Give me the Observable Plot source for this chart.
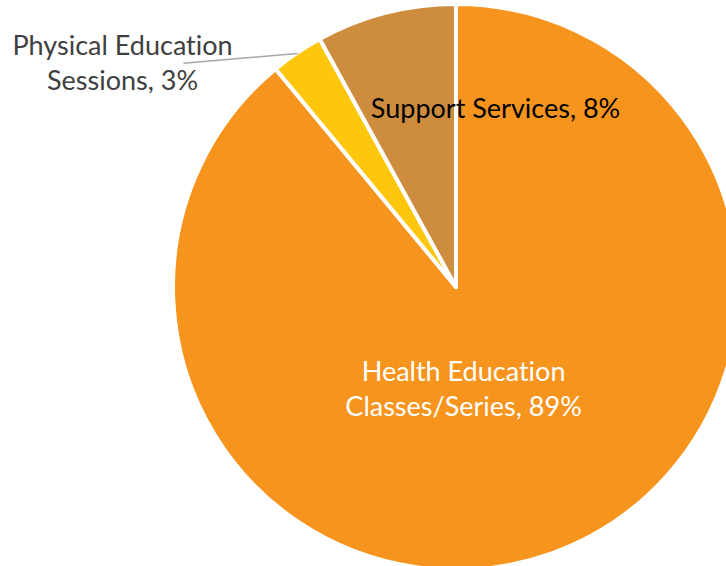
<!DOCTYPE html>
<html>
<head>
<meta charset="utf-8">
<script src="https://cdn.jsdelivr.net/npm/d3@7"></script>
<script src="https://cdn.jsdelivr.net/npm/@observablehq/plot@0.6"></script>
<style>
  html, body { margin: 0; padding: 0; background: #fff; }
  #chart svg { display: block; }
  #chart text { font-variant-ligatures: none; font-feature-settings: "liga" 0, "clig" 0; }
</style>
</head>
<body>
<div id="chart"></div>
<script>
// ---- data ----
const categories = ["Health Education Classes/Series", "Physical Education Sessions", "Support Services"];
const shares = [89, 3, 8];
const labelLines = [
  "Health Education\nClasses/Series, 89%",
  "Physical Education\nSessions, 3%",
  "Support Services, 8%"
];

// ---- styles / layout ----
const sliceColors = ["#F7941D", "#FEC60D", "#CE8C3F"];
const labelColors = ["#FFFFFF", "#404040", "#000000"];
const cx = 456, cy = 287, R = 283;          // pie placement in pixels
const labelAnchors = [[0.025, -0.352], [-1.18, 0.80], [0.138, 0.638]]; // in pie-radius units
const leader = [{x1: -0.965, y1: 0.792, x2: -0.562, y2: 0.827}];

const table = categories.map((c, i) => ({category: c, share: shares[i], label: labelLines[i], color: sliceColors[i], textColor: labelColors[i], lx: labelAnchors[i][0], ly: labelAnchors[i][1]}));

function pieMark(index, scales) {
  const x0 = scales.x(0), y0 = scales.y(0), r = scales.x(1) - x0;
  const arcs = d3.pie().sort(null).value(d => d.share)(table);
  const arc = d3.arc().innerRadius(0).outerRadius(r);
  const g = d3.create("svg:g").attr("transform", `translate(${x0},${y0})`);
  g.selectAll("path").data(arcs).join("path")
    .attr("d", arc)
    .attr("fill", d => d.data.color)
    .attr("stroke", "#fff")
    .attr("stroke-width", 4)
    .attr("stroke-linejoin", "round");
  return g.node();
}

const chart = Plot.plot({
  width: 726,
  height: 566,
  margin: 0,
  style: {fontFamily: "Lato, 'Noto Sans', sans-serif", background: "#fff"},
  x: {domain: [-1, 1], range: [cx - R, cx + R], axis: null},
  y: {domain: [-1, 1], range: [cy + R, cy - R], axis: null},
  marks: [
    pieMark,
    Plot.link(leader, {x1: "x1", y1: "y1", x2: "x2", y2: "y2", stroke: "#A6A6A6", strokeWidth: 1.5}),
    Plot.text(table, {
      x: "lx", y: "ly", text: "label",
      fill: d => d.textColor,
      fontSize: 27, lineHeight: 1.3,
      textAnchor: "middle", lineAnchor: "middle"
    })
  ]
});
document.getElementById("chart").append(chart);
</script>
</body>
</html>
